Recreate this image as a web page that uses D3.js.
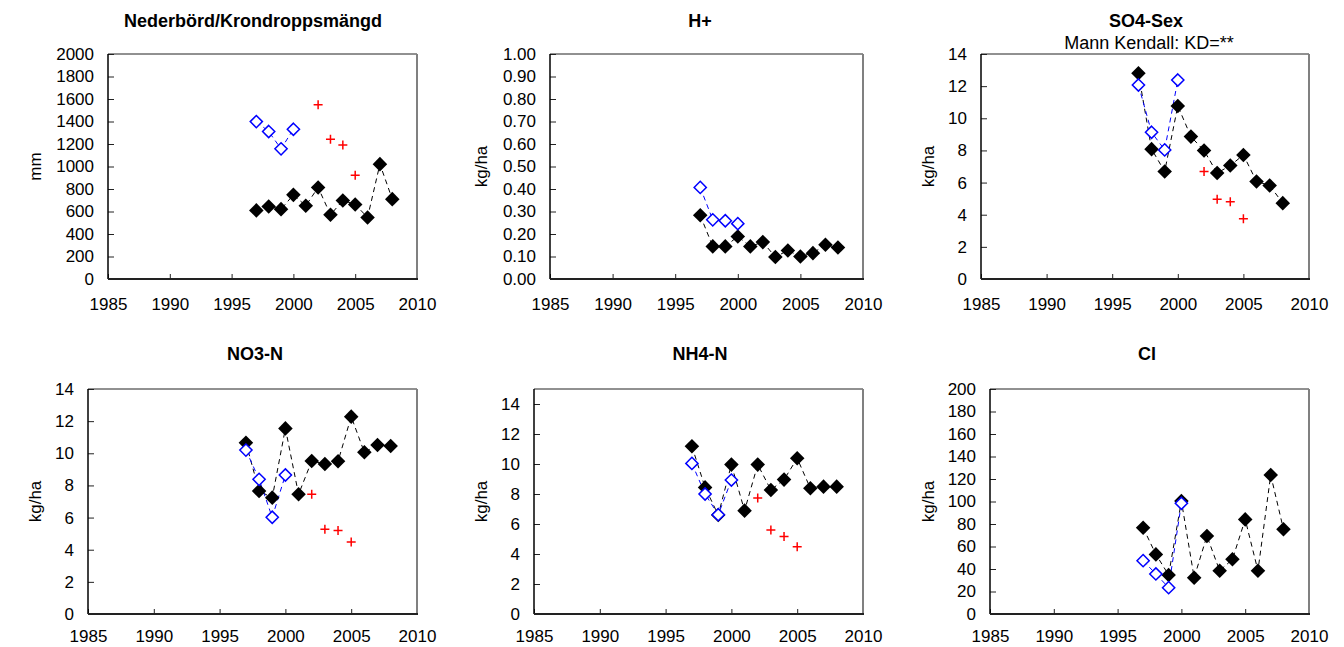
<!DOCTYPE html>
<meta charset="utf-8">
<style>
body {
  background: #fff;
  margin: 0;
  padding: 0;
}
text {
  font-family: 'Liberation Sans', Arial, sans-serif;
  fill: #000;
}
.title {
  font-weight: bold;
  font-size: 18px;
  text-anchor: middle;
}
.subtitle {
  font-size: 18px;
  text-anchor: middle;
}
.ylabel {
  font-size: 17px;
  text-anchor: middle;
}
.axis text {
  font-size: 17px;
}
.axis line {
  stroke: #222;
  stroke-width: 1px;
}
.line-black {
  fill: none;
  stroke: #000;
  stroke-width: 1px;
  stroke-dasharray: 5,4;
}
.line-blue {
  fill: none;
  stroke: #0000ff;
  stroke-width: 1px;
  stroke-dasharray: 5,4;
}
.dot-black {
  fill: #000;
}
.dot-blue {
  fill: #fff;
  stroke: #0000ff;
  stroke-width: 1.5px;
}
.plus-red {
  fill: none;
  stroke: #ff0000;
  stroke-width: 1.5px;
}
</style>
<body>
<script src="https://cdnjs.cloudflare.com/ajax/libs/d3/7.8.5/d3.min.js"></script>
<script>
var width = 1344,
    height = 647;

// years
var yearsBlack = [1997, 1998, 1999, 2000, 2001, 2002, 2003, 2004, 2005, 2006, 2007, 2008];
var yearsBlue = [1997, 1998, 1999, 2000];
var yearsRed = [2002, 2003, 2004, 2005];

// Nederbörd/Krondroppsmängd (mm)
var precipBlack = [610, 645, 621, 748, 651, 814, 571, 698, 663, 547, 1021, 710];
var precipBlue = [1399, 1311, 1157, 1331];
var precipRed = [1550, 1243, 1192, 923];

// H+ (kg/ha)
var hBlack = [0.283, 0.145, 0.145, 0.189, 0.145, 0.164, 0.098, 0.127, 0.10, 0.115, 0.152, 0.14];
var hBlue = [0.407, 0.263, 0.259, 0.246];

// SO4-Sex (kg/ha)
var so4Black = [12.8, 8.08, 6.69, 10.77, 8.86, 7.99, 6.59, 7.06, 7.72, 6.07, 5.82, 4.72];
var so4Blue = [12.07, 9.13, 8.03, 12.38];
var so4Red = [6.69, 4.97, 4.80, 3.75];

// NO3-N (kg/ha)
var no3Black = [10.66, 7.65, 7.24, 11.55, 7.45, 9.52, 9.33, 9.5, 12.28, 10.06, 10.52, 10.45];
var no3Blue = [10.2, 8.38, 6.02, 8.65];
var no3Red = [7.45, 5.27, 5.19, 4.48];

// NH4-N (kg/ha)
var nh4Black = [11.18, 8.44, 6.6, 9.96, 6.89, 9.96, 8.27, 8.96, 10.38, 8.38, 8.49, 8.49];
var nh4Blue = [10.04, 8.0, 6.62, 8.93];
var nh4Red = [7.73, 5.6, 5.16, 4.49];

// Cl (kg/ha)
var clBlack = [76.7, 53.0, 34.7, 100.4, 32.3, 69.3, 38.5, 48.6, 84.1, 38.5, 123.6, 75.3];
var clBlue = [47.4, 35.6, 23.4, 98.4];

var xTicks = [1985, 1990, 1995, 2000, 2005, 2010];

var panels = [
  {title: "Nederbörd/Krondroppsmängd", unit: "mm", black: precipBlack, blue: precipBlue, red: precipRed,
   ymax: 2000, yticks: d3.range(0, 2001, 200), fmt: d3.format("d"),
   box: [108, 417, 54, 279], titleX: 253, ylabX: 35},
  {title: "H+", unit: "kg/ha", black: hBlack, blue: hBlue, red: null,
   ymax: 1, yticks: d3.range(0, 11).map(function(d) { return d / 10; }), fmt: d3.format(".2f"),
   box: [550, 863, 54, 279], titleX: 700, ylabX: 481},
  {title: "SO4-Sex", sub: "Mann Kendall: KD=**", unit: "kg/ha", black: so4Black, blue: so4Blue, red: so4Red,
   ymax: 14, yticks: d3.range(0, 15, 2), fmt: d3.format("d"),
   box: [981, 1309, 54, 279], titleX: 1146, ylabX: 928},
  {title: "NO3-N", unit: "kg/ha", black: no3Black, blue: no3Blue, red: no3Red,
   ymax: 14, yticks: d3.range(0, 15, 2), fmt: d3.format("d"),
   box: [88, 417, 389, 614], titleX: 255, ylabX: 35},
  {title: "NH4-N", unit: "kg/ha", black: nh4Black, blue: nh4Blue, red: nh4Red,
   ymax: 15, yticks: d3.range(0, 15, 2), fmt: d3.format("d"),
   box: [534, 863, 389, 614], titleX: 700, ylabX: 481},
  {title: "Cl", unit: "kg/ha", black: clBlack, blue: clBlue, red: null,
   ymax: 200, yticks: d3.range(0, 201, 20), fmt: d3.format("d"),
   box: [990, 1309, 389, 614], titleX: 1147, ylabX: 928}
];

var svg = d3.select("body").append("svg")
    .attr("width", width)
    .attr("height", height);

var diamond = d3.symbol().type(d3.symbolDiamond2);

panels.forEach(function(p) {
  var left = p.box[0], right = p.box[1], top = p.box[2], bottom = p.box[3];
  var x = d3.scaleLinear().domain([1985, 2010]).range([left, right]);
  var y = d3.scaleLinear().domain([0, p.ymax]).range([bottom, top]);
  var g = svg.append("g");

  // title
  g.append("text")
      .attr("class", "title")
      .attr("x", p.titleX)
      .attr("y", top - (top < 100 ? 27 : 29))
      .text(p.title);
  if (p.sub) {
    g.append("text")
        .attr("class", "subtitle")
        .attr("x", p.titleX + 3)
        .attr("y", top - 5)
        .text(p.sub);
  }

  // y label
  g.append("text")
      .attr("class", "ylabel")
      .attr("transform", "translate(" + (p.ylabX + 6) + "," + ((top + bottom) / 2) + ") rotate(-90)")
      .text(p.unit);

  // axes
  g.append("g")
      .attr("class", "axis")
      .attr("transform", "translate(" + left + ",0)")
      .call(d3.axisLeft(y).tickValues(p.yticks).tickFormat(p.fmt).tickSizeInner(-6).tickSizeOuter(0).tickPadding(14))
      .call(function(a) { a.select(".domain").remove(); });
  g.append("g")
      .attr("class", "axis")
      .attr("transform", "translate(0," + bottom + ")")
      .call(d3.axisBottom(x).tickValues(xTicks).tickFormat(d3.format("d")).tickSizeInner(-5).tickSizeOuter(0)
        .tickPadding(top < 100 ? 19 : 16))
      .call(function(a) { a.select(".domain").remove(); a.selectAll("text").attr("dy", "0.71em"); });

  // frame
  g.append("line").attr("x1", left).attr("x2", right).attr("y1", top).attr("y2", top)
      .attr("stroke", "#222").attr("stroke-width", 1);
  g.append("line").attr("x1", right).attr("x2", right).attr("y1", top).attr("y2", bottom)
      .attr("stroke", "#808080").attr("stroke-width", 2);
  g.append("line").attr("x1", left).attr("x2", left).attr("y1", top).attr("y2", bottom)
      .attr("stroke", "#000").attr("stroke-width", 1.5);
  g.append("line").attr("x1", left).attr("x2", right + 1).attr("y1", bottom).attr("y2", bottom)
      .attr("stroke", "#222").attr("stroke-width", 2);

  var line = d3.line()
      .x(function(d) { return x(d[0]); })
      .y(function(d) { return y(d[1]); });

  var blackPts = d3.zip(yearsBlack, p.black);
  var bluePts = d3.zip(yearsBlue, p.blue);

  g.append("path").datum(blackPts).attr("class", "line-black").attr("d", line);
  g.append("path").datum(bluePts).attr("class", "line-blue").attr("d", line);

  g.selectAll(".dot-black").data(blackPts).enter().append("path")
      .attr("class", "dot-black")
      .attr("transform", function(d) { return "translate(" + x(d[0]) + "," + y(d[1]) + ")"; })
      .attr("d", diamond.size(135));

  g.selectAll(".dot-blue").data(bluePts).enter().append("path")
      .attr("class", "dot-blue")
      .attr("transform", function(d) { return "translate(" + x(d[0]) + "," + y(d[1]) + ")"; })
      .attr("d", diamond.size(95));

  if (p.red) {
    var redPts = d3.zip(yearsRed, p.red);
    g.selectAll(".plus-red").data(redPts).enter().append("path")
        .attr("class", "plus-red")
        .attr("d", function(d) {
          var cx = x(d[0]), cy = y(d[1]), r = 4.5;
          return "M" + (cx - r) + "," + cy + "H" + (cx + r) + "M" + cx + "," + (cy - r) + "V" + (cy + r);
        });
  }
});
</script>
</body>
